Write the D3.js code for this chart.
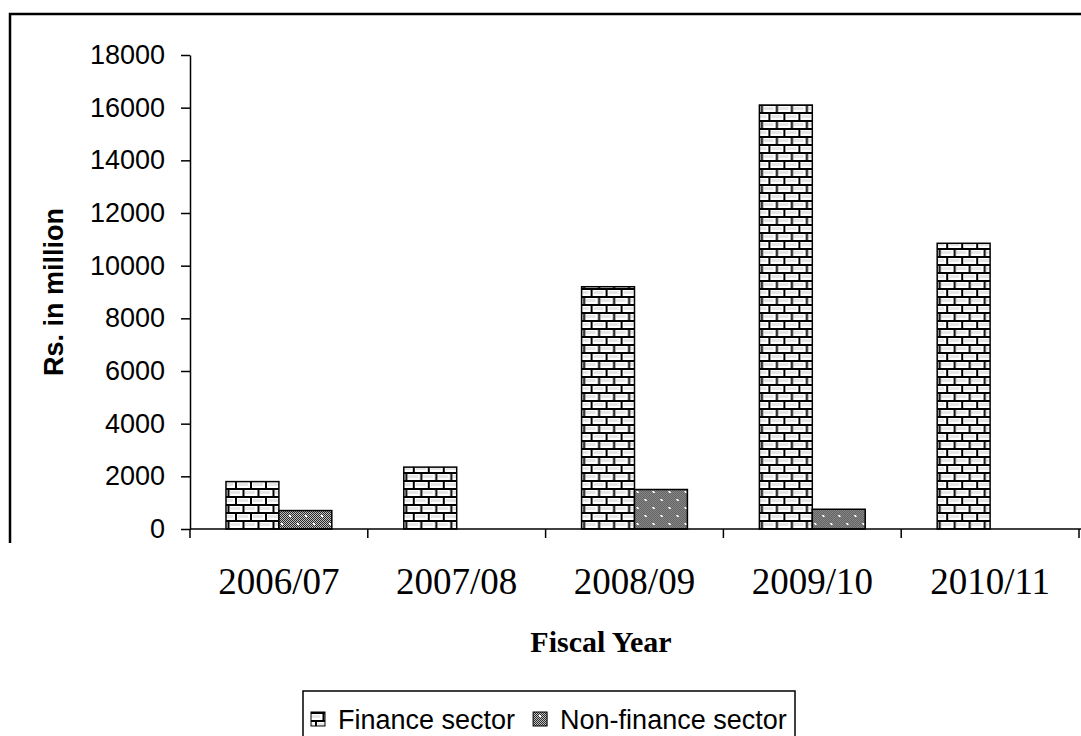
<!DOCTYPE html>
<html>
<head>
<meta charset="utf-8">
<script src="https://cdn.jsdelivr.net/npm/d3@7"></script>
<style>
  body { margin: 0; background: #fff; }
  svg { display: block; }
</style>
</head>
<body>
<div id="chart"></div>
<script>
var categories = ["2006/07", "2007/08", "2008/09", "2009/10", "2010/11"];
var financeSector = [1800, 2350, 9200, 16100, 10850];
var nonFinanceSector = [700, 0, 1500, 750, 0];
var seriesNames = ["Finance sector", "Non-finance sector"];
var yTicks = [0, 2000, 4000, 6000, 8000, 10000, 12000, 14000, 16000, 18000];

var width = 1081, height = 736;
var plot = {left: 190, right: 1079, top: 55, bottom: 529};

var svg = d3.select("#chart").append("svg")
  .attr("width", width)
  .attr("height", height);

// patterns: brick for finance, dotted gray for non-finance
var defs = svg.append("defs");
var brick = defs.append("pattern")
  .attr("id", "brick")
  .attr("patternUnits", "userSpaceOnUse")
  .attr("width", 15).attr("height", 16);
brick.append("rect").attr("width", 15).attr("height", 16).attr("fill", "#fff");
brick.append("rect").attr("x", 3).attr("y", 3).attr("width", 10).attr("height", 3).attr("fill", "#e6e6e6");
brick.append("rect").attr("x", 10).attr("y", 11).attr("width", 10).attr("height", 3).attr("fill", "#e6e6e6");
brick.append("rect").attr("x", -5).attr("y", 11).attr("width", 10).attr("height", 3).attr("fill", "#e6e6e6");
brick.append("path")
  .attr("d", "M0,1H15M0,9H15M1,0V8M8.5,8V16")
  .attr("stroke", "#000").attr("stroke-width", 2).attr("fill", "none");

var checker = defs.append("pattern")
  .attr("id", "checker")
  .attr("patternUnits", "userSpaceOnUse")
  .attr("width", 2).attr("height", 2);
checker.append("rect").attr("width", 2).attr("height", 2).attr("fill", "#c0c0c0");
checker.append("rect").attr("width", 1).attr("height", 1).attr("fill", "#2a2a2a");
checker.append("rect").attr("x", 1).attr("y", 1).attr("width", 1).attr("height", 1).attr("fill", "#2a2a2a");

var dots = defs.append("pattern")
  .attr("id", "dots")
  .attr("patternUnits", "userSpaceOnUse")
  .attr("width", 16).attr("height", 16);
dots.append("rect").attr("width", 16).attr("height", 16).attr("fill", "url(#checker)");
dots.append("rect").attr("x", 3).attr("y", 3).attr("width", 2).attr("height", 2).attr("fill", "#fff");
dots.append("rect").attr("x", 11).attr("y", 11).attr("width", 2).attr("height", 2).attr("fill", "#fff");

var fills = ["url(#brick)", "url(#dots)"];

// outer frame (cropped chart area)
svg.append("path")
  .attr("d", "M10,543V14H" + width)
  .attr("fill", "none")
  .attr("stroke", "#000")
  .attr("stroke-width", 2.5);

var x = d3.scaleBand().domain(categories).range([plot.left, plot.right]);
var xs = d3.scaleBand().domain(seriesNames).range([0, x.bandwidth()]).paddingOuter(0.68);
var y = d3.scaleLinear().domain([0, 18000]).range([plot.bottom, plot.top]);

var rows = categories.map(function (c, i) {
  return {cat: c, values: [financeSector[i], nonFinanceSector[i]]};
});

var groups = svg.selectAll("g.cat")
  .data(rows)
  .enter().append("g")
  .attr("class", "cat")
  .attr("transform", function (d) { return "translate(" + x(d.cat) + ",0)"; });

groups.selectAll("rect")
  .data(function (d) {
    return d.values.map(function (v, j) { return {name: seriesNames[j], value: v, j: j}; })
      .filter(function (e) { return e.value > 0; });
  })
  .enter().append("rect")
  .attr("x", function (d) { return xs(d.name); })
  .attr("y", function (d) { return y(d.value); })
  .attr("width", xs.bandwidth())
  .attr("height", function (d) { return y(0) - y(d.value); })
  .attr("fill", function (d) { return fills[d.j]; })
  .attr("stroke", "#000")
  .attr("stroke-width", 1.5);

// y axis
var yAxis = svg.append("g")
  .attr("transform", "translate(" + plot.left + ",0)")
  .call(d3.axisLeft(y).tickValues(yTicks).tickFormat(d3.format("d")).tickSize(9).tickSizeOuter(0).tickPadding(16));
yAxis.attr("font-family", "'Liberation Sans', Arial, sans-serif").attr("font-size", 27);
yAxis.selectAll("line, path").attr("stroke", "#000").attr("stroke-width", 1.5);
yAxis.selectAll("text").attr("fill", "#000");

// x axis with ticks at category boundaries
var bounds = categories.map(function (c) { return x(c); }).concat([plot.right]);
svg.append("line")
  .attr("x1", plot.left).attr("x2", width)
  .attr("y1", y(0)).attr("y2", y(0))
  .attr("stroke", "#000").attr("stroke-width", 1.5);
svg.selectAll("line.xtick")
  .data(bounds)
  .enter().append("line")
  .attr("class", "xtick")
  .attr("x1", function (d) { return d; }).attr("x2", function (d) { return d; })
  .attr("y1", y(0)).attr("y2", y(0) + 9)
  .attr("stroke", "#000").attr("stroke-width", 1.5);
svg.selectAll("text.xlab")
  .data(categories)
  .enter().append("text")
  .attr("class", "xlab")
  .attr("x", function (d) { return x(d) + x.bandwidth() / 2; })
  .attr("y", 594)
  .attr("text-anchor", "middle")
  .attr("font-family", "'Liberation Serif', 'Times New Roman', serif")
  .attr("font-size", 37)
  .text(function (d) { return d; });

// axis titles
svg.append("text")
  .attr("x", 601)
  .attr("y", 652)
  .attr("text-anchor", "middle")
  .attr("font-family", "'Liberation Serif', 'Times New Roman', serif")
  .attr("font-weight", "bold")
  .attr("font-size", 30)
  .text("Fiscal Year");

svg.append("text")
  .attr("transform", "translate(63,292) rotate(-90)")
  .attr("text-anchor", "middle")
  .attr("font-family", "'Liberation Sans', Arial, sans-serif")
  .attr("font-weight", "bold")
  .attr("font-size", 27)
  .text("Rs. in million");

// legend
var legend = svg.append("g");
legend.append("rect")
  .attr("x", 303).attr("y", 691)
  .attr("width", 492).attr("height", 60)
  .attr("fill", "#fff").attr("stroke", "#000").attr("stroke-width", 1.5);
var lx = 311;
seriesNames.forEach(function (name, j) {
  legend.append("rect")
    .attr("x", lx).attr("y", 712)
    .attr("width", 14).attr("height", 14)
    .attr("fill", fills[j]).attr("stroke", "#000").attr("stroke-width", 1);
  var t = legend.append("text")
    .attr("x", lx + 27).attr("y", 729)
    .attr("font-family", "'Liberation Sans', Arial, sans-serif")
    .attr("font-size", 27)
    .text(name);
  lx += 27 + t.node().getComputedTextLength() + 18;
});
</script>
</body>
</html>
